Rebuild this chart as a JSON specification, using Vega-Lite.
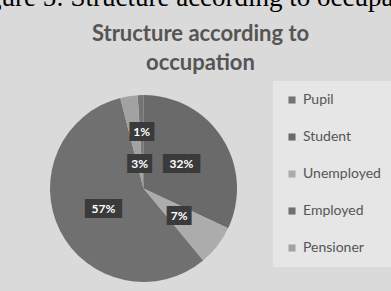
{
  "$schema": "https://vega.github.io/schema/vega-lite/v6.json",
  "width": 187,
  "height": 187,
  "autosize": {"type": "none"},
  "padding": {"left": 50, "top": 95, "right": 154, "bottom": 9},
  "background": "#dadada",
  "title": {
    "text": "Figure 5: Structure according to occupation",
    "subtitle": ["Structure according to", "occupation"],
    "anchor": "middle",
    "frame": "group",
    "dx": 57,
    "offset": 6,
    "font": "Liberation Serif",
    "fontSize": 27,
    "fontWeight": "normal",
    "color": "#000000",
    "subtitleFont": "Lato",
    "subtitleFontSize": 22,
    "subtitleFontWeight": "bold",
    "subtitleColor": "#555555",
    "subtitleLineHeight": 29,
    "subtitlePadding": 12
  },
  "data": {
    "values": [
      {"category": "Pupil", "value": 1, "label": "1%", "slice": 5},
      {"category": "Student", "value": 32, "label": "32%", "slice": 1},
      {"category": "Unemployed", "value": 7, "label": "7%", "slice": 2},
      {"category": "Employed", "value": 57, "label": "57%", "slice": 3},
      {"category": "Pensioner", "value": 3, "label": "3%", "slice": 4}
    ]
  },
  "encoding": {
    "theta": {"field": "value", "type": "quantitative", "stack": true},
    "order": {"field": "slice", "type": "quantitative"}
  },
  "layer": [
    {
      "mark": {"type": "arc"},
      "encoding": {
        "color": {
          "field": "category",
          "type": "nominal",
          "scale": {
            "domain": ["Pupil", "Student", "Unemployed", "Employed", "Pensioner"],
            "range": ["#747474", "#6a6a6a", "#acacac", "#707070", "#a2a2a2"]
          },
          "legend": {
            "title": null,
            "orient": "none",
            "legendX": 223,
            "legendY": -14,
            "fillColor": "#e6e6e6",
            "padding": 12,
            "symbolType": "square",
            "symbolSize": 50,
            "symbolStrokeWidth": 0,
            "labelFont": "Lato",
            "labelFontSize": 14,
            "labelColor": "#555555",
            "labelOffset": 4,
            "rowPadding": 23
          }
        }
      }
    },
    {
      "mark": {"type": "text", "font": "DejaVu Sans", "fontSize": 16, "fill": "#3a3a3a", "align": "center", "baseline": "middle", "radius": 45},
      "encoding": {
        "text": {
          "condition": [
            {"test": "datum.category === 'Student' || datum.category === 'Employed'", "value": "███"},
            {"test": "datum.category === 'Unemployed'", "value": "██"}
          ],
          "value": ""
        }
      }
    },
    {
      "mark": {"type": "text", "font": "Lato", "fontWeight": "bold", "fontSize": 12, "fill": "#ffffff", "align": "center", "baseline": "middle", "radius": 45},
      "encoding": {
        "text": {
          "condition": {"test": "datum.category === 'Student' || datum.category === 'Employed' || datum.category === 'Unemployed'", "field": "label"},
          "value": ""
        }
      }
    },
    {
      "mark": {"type": "text", "font": "DejaVu Sans", "fontSize": 16, "fill": "#3a3a3a", "align": "center", "baseline": "middle", "radius": 25},
      "encoding": {
        "text": {
          "condition": {"test": "datum.category === 'Pensioner'", "value": "██"},
          "value": ""
        }
      }
    },
    {
      "mark": {"type": "text", "font": "Lato", "fontWeight": "bold", "fontSize": 12, "fill": "#ffffff", "align": "center", "baseline": "middle", "radius": 25},
      "encoding": {
        "text": {
          "condition": {"test": "datum.category === 'Pensioner'", "field": "label"},
          "value": ""
        }
      }
    },
    {
      "mark": {"type": "text", "font": "DejaVu Sans", "fontSize": 16, "fill": "#3a3a3a", "align": "center", "baseline": "middle", "radius": 57},
      "encoding": {
        "text": {
          "condition": {"test": "datum.category === 'Pupil'", "value": "██"},
          "value": ""
        }
      }
    },
    {
      "mark": {"type": "text", "font": "Lato", "fontWeight": "bold", "fontSize": 12, "fill": "#ffffff", "align": "center", "baseline": "middle", "radius": 57},
      "encoding": {
        "text": {
          "condition": {"test": "datum.category === 'Pupil'", "field": "label"},
          "value": ""
        }
      }
    }
  ]
}
